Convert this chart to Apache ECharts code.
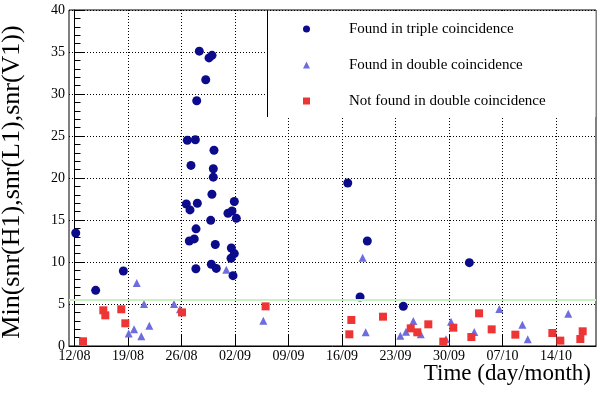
<!DOCTYPE html>
<html>
<head>
<meta charset="utf-8">
<script src="https://cdn.jsdelivr.net/npm/echarts@6/dist/echarts.min.js"></script>
<style>
  html, body { margin: 0; padding: 0; background: #fff; }
  #chart { width: 600px; height: 398px; }
</style>
</head>
<body>
<div id="chart"></div>
<script>
// x values are days since 12/08
const tickLabels = ["12/08", "19/08", "26/08", "02/09", "09/09", "16/09", "23/09", "30/09", "07/10", "14/10"];
const tickDays = [0, 7, 14, 21, 28, 35, 42, 49, 56, 63];

const tripleDays = [0.16, 2.77, 6.39, 14.63, 14.76, 15.02, 15.11, 15.24, 15.67, 15.81, 15.88, 15.9, 15.99,
  16.07, 16.33, 17.17, 17.6, 17.82, 17.9, 17.98, 17.99, 18.16, 18.16, 18.25, 18.42, 18.55, 20.08, 20.48,
  20.52, 20.61, 20.74, 20.91, 20.91, 21.17, 35.75, 37.36, 38.31, 43.02, 51.66];
const tripleSnr = [13.45, 6.63, 8.93, 16.9, 24.5, 12.5, 16.2, 21.5, 12.75, 24.55, 9.2, 13.95, 29.2,
  17.0, 35.1, 31.7, 34.3, 14.96, 9.73, 18.06, 34.6, 21.1, 20.1, 23.3, 12.08, 9.24, 15.8, 10.44,
  11.67, 16.07, 8.37, 17.2, 11.0, 15.2, 19.4, 5.83, 12.5, 4.72, 9.92];

const doubleDays = [7.09, 7.79, 8.14, 8.74, 9.09, 9.79, 13.02, 13.8, 19.86, 24.7, 37.7, 38.1, 42.63,
  43.37, 44.33, 45.3, 48.6, 49.26, 52.3, 55.58, 58.6, 59.3, 64.6];
const doubleSnr = [1.5, 1.98, 7.5, 1.15, 5.0, 2.42, 5.0, 4.37, 9.08, 3.02, 10.5, 1.63, 1.23,
  1.71, 2.98, 1.39, 0.8, 2.9, 1.67, 4.4, 2.54, 0.8, 3.85];

const missedDays = [1.11, 3.77, 4.03, 6.12, 6.65, 14.07, 25.0, 35.96, 36.22, 40.36, 43.99, 44.85,
  46.29, 48.25, 49.56, 51.92, 52.93, 54.58, 57.68, 62.52, 63.56, 66.18, 66.49];
const missedSnr = [0.56, 4.25, 3.65, 4.37, 2.7, 4.0, 4.72, 1.39, 3.1, 3.49, 2.1, 1.63,
  2.58, 0.52, 2.18, 1.07, 3.89, 1.98, 1.35, 1.55, 0.64, 0.83, 1.75];

const threshold = 5.55;

const serif = "'Liberation Serif', 'DejaVu Serif', serif";

function pairs(xs, ys) {
  return xs.map((x, i) => [x, ys[i]]);
}

const chart = echarts.init(document.getElementById("chart"));

chart.setOption({
  animation: false,
  textStyle: { fontFamily: serif },
  grid: {
    left: 69,
    right: 4,
    top: 10,
    bottom: 52,
    outerBoundsMode: "none",
    show: true,
    borderColor: "#000",
    borderWidth: 1,
  },
  title: {
    text: "Time (day/month)",
    right: 9,
    top: 362,
    padding: 0,
    textStyle: { fontFamily: serif, fontSize: 23, fontWeight: "normal", color: "#000" },
  },
  legend: {
    orient: "vertical",
    left: 303,
    top: 21,
    padding: 0,
    itemWidth: 7,
    itemHeight: 7,
    itemGap: 20,
    textStyle: { fontFamily: serif, fontSize: 15, color: "#000", padding: [0, 0, 0, 34], lineHeight: 16 },
    data: ["Found in triple coincidence", "Found in double coincidence", "Not found in double coincidence"],
  },
  graphic: [
    {
      type: "rect",
      z: 1,
      shape: { x: 267, y: 11, width: 328.5, height: 106 },
      style: { fill: "#fff" },
    },
    {
      type: "line",
      z: 1,
      shape: { x1: 267.5, y1: 10, x2: 267.5, y2: 117 },
      style: { stroke: "#000", lineWidth: 1 },
    },
  ],
  xAxis: {
    type: "value",
    min: -0.72,
    max: 68.23,
    axisLine: { lineStyle: { color: "#000" } },
    axisTick: { inside: true, length: 11, customValues: tickDays, lineStyle: { color: "#000" } },
    axisLabel: {
      customValues: tickDays,
      formatter: (v) => tickLabels[tickDays.indexOf(v)],
      fontFamily: serif,
      fontSize: 14,
      color: "#000",
      margin: 3,
    },
    splitLine: { show: true, lineStyle: { color: "#000", type: [1, 2], width: 1 } },
  },
  yAxis: {
    type: "value",
    min: 0,
    max: 40,
    interval: 5,
    name: "Min(snr(H1),snr(L1),snr(V1))",
    nameLocation: "middle",
    nameGap: 44,
    nameTextStyle: { fontFamily: serif, fontSize: 26, color: "#000", padding: [0, 8, 0, 0] },
    axisLine: { lineStyle: { color: "#000" } },
    axisTick: { inside: true, length: 10, lineStyle: { color: "#000" } },
    minorTick: { show: true, splitNumber: 5, length: 6, lineStyle: { color: "#000" } },
    axisLabel: { fontFamily: serif, fontSize: 14, color: "#000", margin: 4 },
    splitLine: { show: true, lineStyle: { color: "#000", type: [1, 2], width: 1 } },
  },
  series: [
    {
      name: "Found in triple coincidence",
      type: "scatter",
      symbol: "circle",
      symbolSize: 9,
      itemStyle: { color: "#0b0b8c", opacity: 1 },
      data: pairs(tripleDays, tripleSnr),
      z: 4,
      markLine: {
        silent: true,
        symbol: "none",
        label: { show: false },
        lineStyle: { color: "#c8f0c0", type: "solid", width: 2 },
        data: [{ yAxis: threshold }],
      },
    },
    {
      name: "Found in double coincidence",
      type: "scatter",
      symbol: "triangle",
      symbolSize: 8,
      itemStyle: { color: "#6d6de0", opacity: 1 },
      data: pairs(doubleDays, doubleSnr),
      z: 3,
    },
    {
      name: "Not found in double coincidence",
      type: "scatter",
      symbol: "rect",
      symbolSize: 8,
      itemStyle: { color: "#ee3535", opacity: 1 },
      data: pairs(missedDays, missedSnr),
      z: 3,
    },
  ],
});
</script>
</body>
</html>
